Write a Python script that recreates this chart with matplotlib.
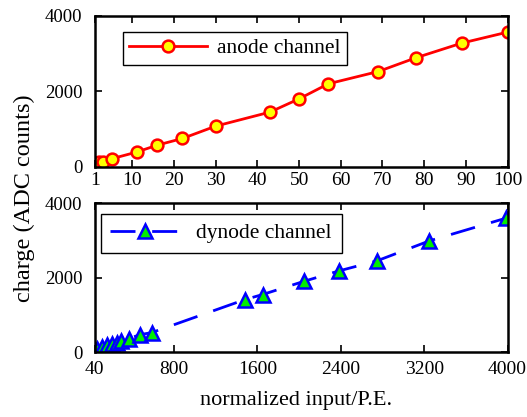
import matplotlib.pyplot as plt

plt.rcParams['font.family'] = ['Liberation Serif', 'DejaVu Serif']

# anode channel (upper panel)
anode_x = [1, 2, 3, 5, 11, 16, 22, 30, 43, 50, 57, 69, 78, 89, 100]
anode_y = [98, 114, 132, 212, 389, 575, 750, 1078, 1449, 1801, 2199, 2525, 2888, 3277, 3568]

# dynode channel (lower panel)
dynode_x = [40, 56, 104, 152, 200, 248, 295, 365, 473, 585, 1481, 1650, 2049, 2383, 2747, 3251, 3990]
dynode_y = [60, 99, 142, 188, 234, 260, 303, 368, 475, 529, 1415, 1550, 1906, 2183, 2452, 2988, 3600]

top_ticks = [1, 10, 20, 30, 40, 50, 60, 70, 80, 90, 100]
bot_ticks = [40, 800, 1600, 2400, 3200, 4000]
y_ticks = [0, 2000, 4000]

fig = plt.figure(figsize=(5.27, 4.17), dpi=100)
ax1 = fig.add_axes([0.180, 0.600, 0.783, 0.362])
ax2 = fig.add_axes([0.180, 0.155, 0.783, 0.358])

ax1.plot(anode_x, anode_y, '-o', color='#ff0000', lw=2, ms=8.5,
         mfc='#ffff00', mec='#ff0000', mew=1.8, label='anode channel')
ax2.plot(dynode_x, dynode_y, '--^', color='#0000ff', lw=2, ms=9.5,
         mfc='#00ee00', mec='#0000ff', mew=1.8, dashes=(9, 6), label='dynode channel')

ax1.set_xlim(1, 100)
ax1.set_xticks(top_ticks)
ax2.set_xlim(40, 4000)
ax2.set_xticks(bot_ticks)

for ax in (ax1, ax2):
    ax.set_ylim(0, 4000)
    ax.set_yticks(y_ticks)
    ax.tick_params(direction='in', top=True, right=True, length=5, width=1.2,
                   labelsize=14)
    ax.tick_params(axis='y', pad=9, labelsize=13.5)
    for s in ax.spines.values():
        s.set_linewidth(1.8)
ax1.tick_params(axis='x', pad=4)
ax2.tick_params(axis='x', pad=6, labelsize=14)

leg1 = ax1.legend(loc='upper left', bbox_to_anchor=(0.068, 0.894), fontsize=15.5,
                  handlelength=3.6, handletextpad=0.45, borderpad=0.3, borderaxespad=0,
                  fancybox=False, framealpha=1, edgecolor='black')
leg1.get_frame().set_linewidth(1.0)
leg2 = ax2.legend(loc='upper left', bbox_to_anchor=(0.014, 0.93), fontsize=15.5,
                  handlelength=3.2, handletextpad=0.8, borderpad=0.45, borderaxespad=0,
                  fancybox=False, framealpha=1, edgecolor='black')
leg2.get_frame().set_linewidth(1.0)

fig.text(0.047, 0.525, 'charge (ADC counts)', rotation=90, ha='center', va='center', fontsize=17.5)
fig.text(0.562, 0.04, 'normalized input/P.E.', ha='center', va='center', fontsize=16)

fig.savefig('out.png', dpi=100)
